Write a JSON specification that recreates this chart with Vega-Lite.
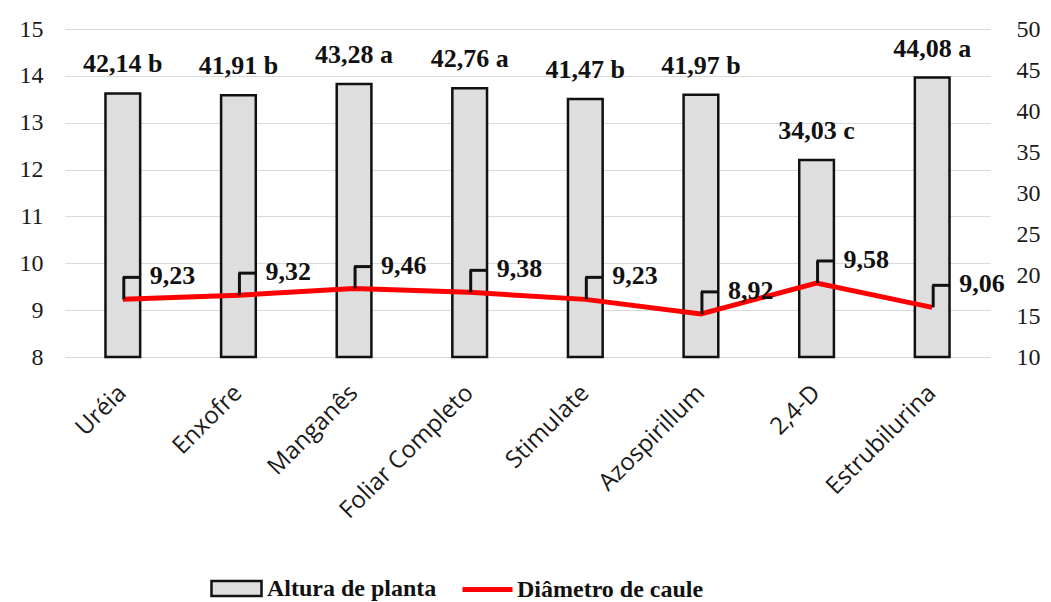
{
  "$schema": "https://vega.github.io/schema/vega-lite/v6.json",
  "autosize": "none",
  "width": 925,
  "height": 328,
  "padding": {"left": 65, "top": 29, "right": 61, "bottom": 245},
  "background": "white",
  "data": {
    "values": [
      {"tratamento": "Uréia", "altura": 42.14, "rotulo_altura": "42,14 b", "diametro": 9.23, "rotulo_diametro": "9,23"},
      {"tratamento": "Enxofre", "altura": 41.91, "rotulo_altura": "41,91 b", "diametro": 9.32, "rotulo_diametro": "9,32"},
      {"tratamento": "Manganês", "altura": 43.28, "rotulo_altura": "43,28 a", "diametro": 9.46, "rotulo_diametro": "9,46"},
      {"tratamento": "Foliar Completo", "altura": 42.76, "rotulo_altura": "42,76 a", "diametro": 9.38, "rotulo_diametro": "9,38"},
      {"tratamento": "Stimulate", "altura": 41.47, "rotulo_altura": "41,47 b", "diametro": 9.23, "rotulo_diametro": "9,23"},
      {"tratamento": "Azospirillum", "altura": 41.97, "rotulo_altura": "41,97 b", "diametro": 8.92, "rotulo_diametro": "8,92"},
      {"tratamento": "2,4-D", "altura": 34.03, "rotulo_altura": "34,03 c", "diametro": 9.58, "rotulo_diametro": "9,58"},
      {"tratamento": "Estrubilurina", "altura": 44.08, "rotulo_altura": "44,08 a", "diametro": 9.06, "rotulo_diametro": "9,06"}
    ]
  },
  "encoding": {
    "x": {
      "field": "tratamento",
      "type": "nominal",
      "sort": null,
      "title": null,
      "scale": {"paddingInner": 0.7, "paddingOuter": 0.35},
      "axis": {
        "domain": false,
        "ticks": false,
        "grid": false,
        "labelAngle": -45,
        "labelAlign": "right",
        "labelBaseline": "middle",
        "labelPadding": 32,
        "labelFont": "Open Sans",
        "labelFontSize": 24,
        "labelColor": "#1a1a1a"
      }
    }
  },
  "layer": [
    {
      "encoding": {
        "y": {
          "field": "altura",
          "type": "quantitative",
          "title": null,
          "scale": {"domain": [10, 50], "zero": false, "nice": false},
          "axis": {
            "orient": "right",
            "values": [10, 15, 20, 25, 30, 35, 40, 45, 50],
            "grid": false,
            "domain": false,
            "ticks": false,
            "labelPadding": 26,
            "labelFont": "Liberation Serif",
            "labelFontSize": 24,
            "labelColor": "#1a1a1a"
          }
        }
      },
      "layer": [
        {
          "mark": {"type": "bar", "stroke": "#111111", "strokeWidth": 2.5},
          "encoding": {
            "y2": {"datum": 10},
            "fill": {
              "datum": "Altura de planta",
              "type": "nominal",
              "scale": {"range": ["#dedede"]},
              "legend": {
                "orient": "none",
                "legendX": 145,
                "legendY": 533,
                "title": null,
                "symbolType": "M-1,-0.3L1,-0.3L1,0.3L-1,0.3Z",
                "symbolSize": 2500,
                "symbolStrokeColor": "#111111",
                "symbolStrokeWidth": 2.5,
                "symbolOpacity": 1,
                "labelOffset": 4
              }
            }
          }
        },
        {
          "mark": {
            "type": "text",
            "font": "Liberation Serif",
            "fontWeight": "bold",
            "fontSize": 26,
            "color": "#111111",
            "baseline": "alphabetic",
            "dy": -21
          },
          "encoding": {"text": {"field": "rotulo_altura"}}
        }
      ]
    },
    {
      "encoding": {
        "y": {
          "field": "diametro",
          "type": "quantitative",
          "title": null,
          "scale": {"domain": [8, 15], "zero": false, "nice": false},
          "axis": {
            "orient": "left",
            "values": [8, 9, 10, 11, 12, 13, 14, 15],
            "grid": true,
            "gridColor": "#d9d9d9",
            "gridWidth": 1.2,
            "domain": false,
            "ticks": false,
            "labelPadding": 22,
            "labelFont": "Liberation Serif",
            "labelFontSize": 24,
            "labelColor": "#1a1a1a"
          }
        }
      },
      "layer": [
        {
          "mark": {"type": "line", "strokeWidth": 5},
          "encoding": {
            "stroke": {
              "datum": "Diâmetro de caule",
              "type": "nominal",
              "scale": {"range": ["#ff0000"]},
              "legend": {
                "orient": "none",
                "legendX": 395,
                "legendY": 533,
                "title": null,
                "symbolType": "stroke",
                "symbolSize": 2500,
                "symbolStrokeWidth": 5,
                "labelOffset": 2
              }
            }
          }
        },
        {
          "mark": {"type": "rule", "color": "#111111", "strokeWidth": 3, "xOffset": 1, "x2Offset": 1, "y2Offset": -22},
          "encoding": {
            "x2": {"field": "tratamento"},
            "y2": {"field": "diametro"}
          }
        },
        {
          "mark": {"type": "rule", "color": "#111111", "strokeWidth": 3, "x2Offset": 17, "yOffset": -22, "y2Offset": -22},
          "encoding": {
            "x2": {"field": "tratamento"},
            "y2": {"field": "diametro"}
          }
        },
        {
          "mark": {
            "type": "text",
            "font": "Liberation Serif",
            "fontWeight": "bold",
            "fontSize": 26,
            "color": "#111111",
            "align": "left",
            "baseline": "middle",
            "dx": 27,
            "dy": -23
          },
          "encoding": {"text": {"field": "rotulo_diametro"}}
        }
      ]
    }
  ],
  "resolve": {"scale": {"y": "independent"}},
  "config": {
    "view": {"stroke": null},
    "axis": {"labelFont": "Liberation Serif"},
    "legend": {
      "padding": 0,
      "labelLimit": 0,
      "labelFont": "Liberation Serif",
      "labelFontWeight": "bold",
      "labelFontSize": 24,
      "labelColor": "#111111"
    }
  }
}
